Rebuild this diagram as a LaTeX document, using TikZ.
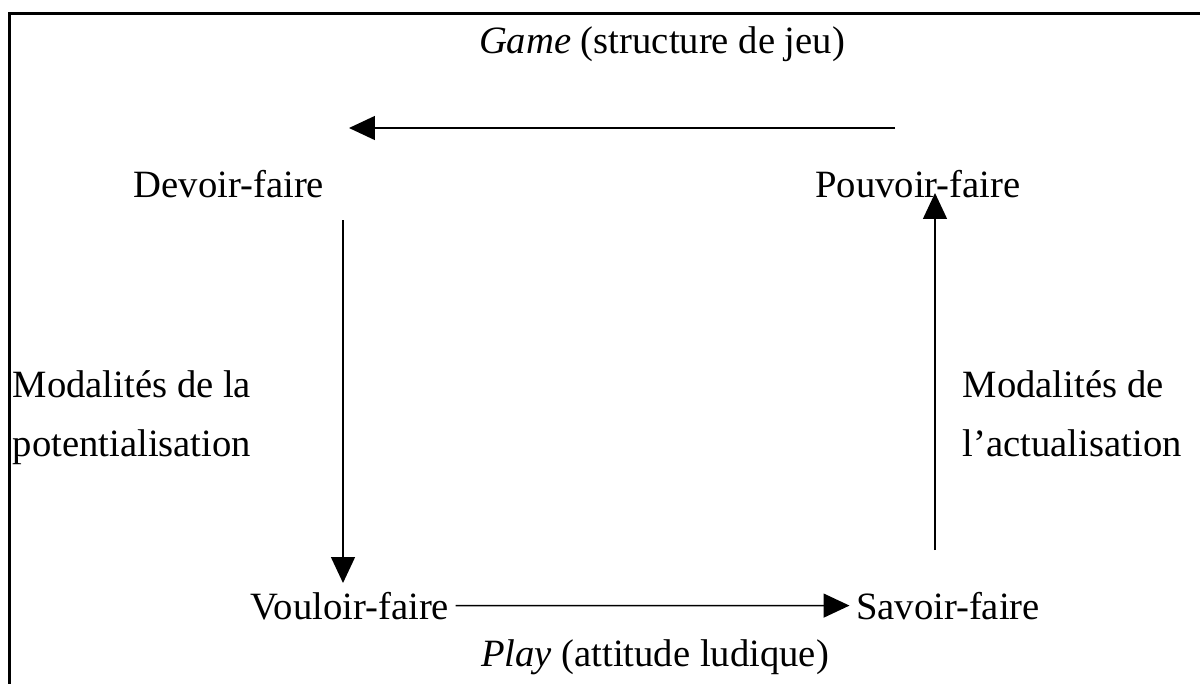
\documentclass[tikz,border=0pt]{standalone}
\usepackage{fontspec}
\setmainfont{Liberation Serif}
\usetikzlibrary{arrows.meta}

\begin{document}
\begin{tikzpicture}[x=0.02cm,y=-0.02cm,->,>={Triangle[length=5.2mm,width=4.8mm]},line width=0.85pt,modal node/.style={font=\fontsize{22}{33.5}\selectfont,anchor=base},side node/.style={modal node,anchor=base west,align=left,inner sep=0pt}]
  \useasboundingbox (0,0) rectangle (1200,683);
  \draw[-,line width=0.06cm] (9.5,700) -- (9.5,13.5) -- (1220,13.5);

  \node[modal node] (game) at (662,53) {\textit{Game} (structure de jeu)};
  \node[modal node] (devoir) at (229,197) {Devoir-faire};
  \node[modal node] (pouvoir) at (918,197) {Pouvoir-faire};
  \node[modal node] (vouloir) at (350,619) {Vouloir-faire};
  \node[modal node] (savoir) at (948,619) {Savoir-faire};
  \node[modal node] (play) at (655,666) {\textit{Play} (attitude ludique)};
  \node[side node] (potent) at (12,456) {Modalités de la\\potentialisation};
  \node[side node] (actual) at (962,456) {Modalités de\\l’actualisation};

  \coordinate (game start) at (895,128);
  \coordinate (game end) at (349,128);
  \coordinate (potent start) at (343,220);
  \coordinate (potent end) at (343,583);
  \coordinate (actual start) at (935,550);
  \coordinate (actual end) at (935,193);

\path
  (game start) edge (game end)
  (potent start) edge (potent end)
  (vouloir.east) edge (savoir.west)
  (actual start) edge (actual end)
;
\end{tikzpicture}
\end{document}
